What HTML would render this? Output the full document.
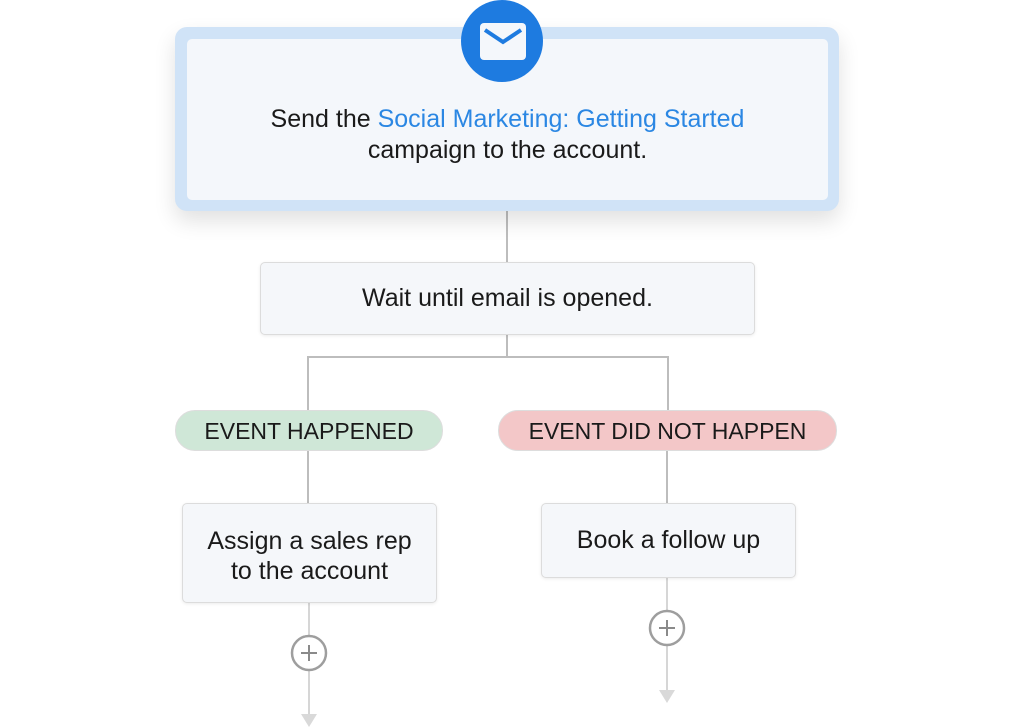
<!DOCTYPE html>
<html><head><meta charset="utf-8">
<style>
html,body{margin:0;padding:0;background:#fff;}
body{width:1024px;height:728px;position:relative;overflow:hidden;font-family:"Liberation Sans",Arial,sans-serif;color:#1a1a1a;}
.abs{position:absolute;box-sizing:border-box;}
.top{left:175px;top:27px;width:664px;height:184px;background:#d0e3f7;border-radius:12px;box-shadow:0 10px 22px rgba(0,0,0,0.12);}
.topin{left:187px;top:39px;width:641px;height:161px;background:#f4f7fb;border-radius:5px;}
.t{text-align:center;font-size:25px;}
.box{background:#f5f7fa;border:1px solid #dcdcdc;border-radius:5px;box-shadow:0 1px 3px rgba(0,0,0,0.08);}
.pill{border-radius:20px;font-size:23px;text-align:center;line-height:40px;border:1px solid #ddd;}
</style></head><body>
<svg class="abs" style="left:0;top:0" width="1024" height="728">
<g stroke="#bdbdbd" stroke-width="2" fill="none">
<line x1="507" y1="210" x2="507" y2="262"/>
<line x1="507" y1="335" x2="507" y2="357"/>
<polyline points="308,410 308,357 668,357 668,410"/>
<line x1="308" y1="450" x2="308" y2="503"/>
<line x1="667" y1="450" x2="667" y2="503"/>
</g>
<g stroke="#d6d6d6" stroke-width="2" fill="none">
<line x1="309" y1="603" x2="309" y2="636"/>
<line x1="309" y1="670" x2="309" y2="716"/>
<line x1="667" y1="578" x2="667" y2="611"/>
<line x1="667" y1="645" x2="667" y2="692"/>
</g>
<polygon points="301,714 317,714 309,727" fill="#d9d9d9"/>
<polygon points="659,690 675,690 667,703" fill="#d9d9d9"/>
<g stroke="#9e9e9e" stroke-width="2.5" fill="#fff">
<circle cx="309" cy="653" r="17"/>
<circle cx="667" cy="628" r="17"/>
</g>
<g stroke="#8a8a8a" stroke-width="2">
<line x1="301" y1="653" x2="317" y2="653"/><line x1="309" y1="645" x2="309" y2="661"/>
<line x1="659" y1="628" x2="675" y2="628"/><line x1="667" y1="620" x2="667" y2="636"/>
</g>
</svg>
<div class="abs top"></div>
<div class="abs topin"></div>
<svg class="abs" style="left:461px;top:0" width="84" height="84">
<circle cx="41" cy="41" r="41" fill="#1e7be0"/>
<rect x="19" y="23" width="46" height="37" rx="4" fill="#f4f7fb"/>
<polyline points="24,30 42,42 60,30" stroke="#1e7be0" stroke-width="4" fill="none"/>
</svg>
<div class="abs t" style="left:187px;top:104px;width:641px;line-height:31px;">Send the <span style="color:#2b87e3">Social Marketing: Getting Started</span><br>campaign to the account.</div>
<div class="abs box t" style="left:260px;top:262px;width:495px;height:73px;line-height:71px;">Wait until email is opened.</div>
<div class="abs pill" style="left:175px;top:410px;width:268px;height:41px;background:#cfe7d7;">EVENT HAPPENED</div>
<div class="abs pill" style="left:498px;top:410px;width:339px;height:41px;background:#f3c7c8;">EVENT DID NOT HAPPEN</div>
<div class="abs box t" style="left:182px;top:503px;width:255px;height:100px;padding-top:22px;line-height:30px;">Assign a sales rep<br>to the account</div>
<div class="abs box t" style="left:541px;top:503px;width:255px;height:75px;line-height:72px;">Book a follow up</div>
</body></html>
